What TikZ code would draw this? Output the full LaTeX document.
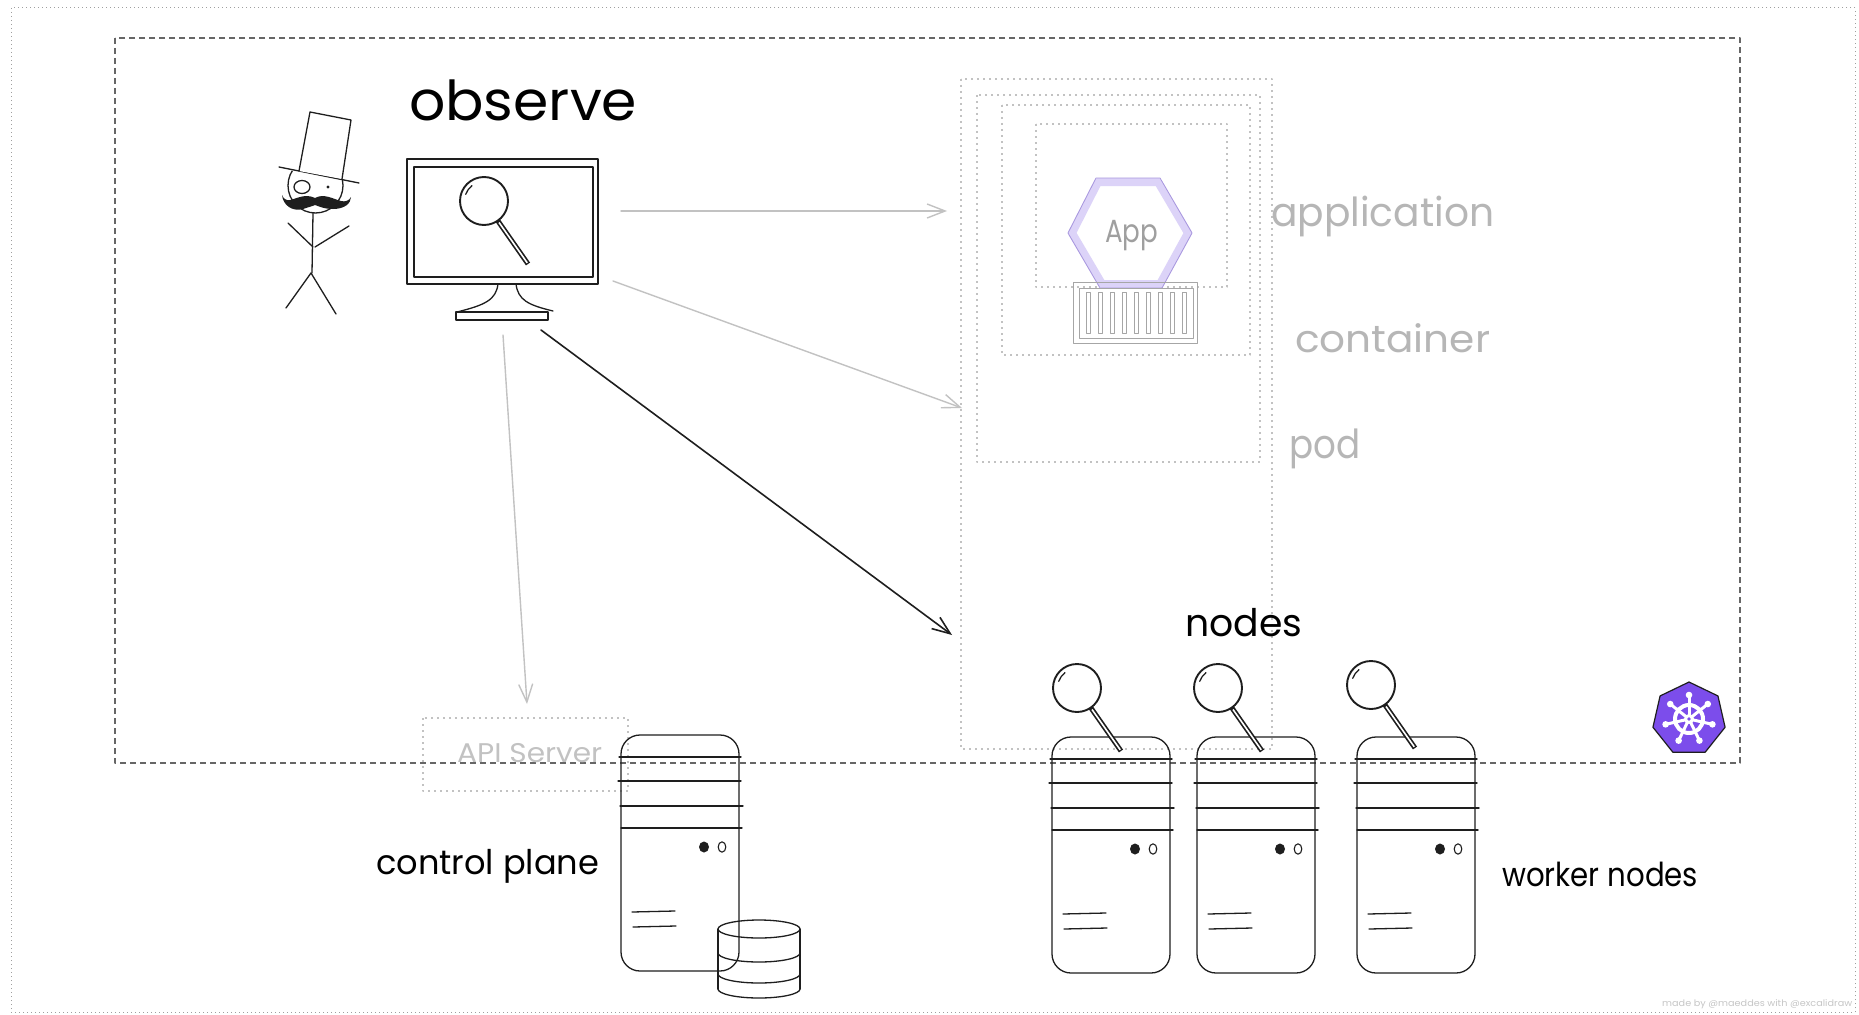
\documentclass[tikz,border=0pt]{standalone}
\usepackage{fontspec}
\usepackage{graphicx}
\usetikzlibrary{arrows.meta}
\newfontfamily\hand{Poppins}
\definecolor{ink}{HTML}{1E1E1E}
\definecolor{faint}{HTML}{C2C2C2}
\definecolor{labelgray}{HTML}{B6B6B6}
\definecolor{frame}{HTML}{666666}
\definecolor{lav}{HTML}{DCD3F8}
\definecolor{lavedge}{HTML}{A897DE}
\definecolor{kube}{HTML}{7C4DEB}
% hand-lettered label: target width (pt), font size (pt), text
\newcommand\handtext[3]{\resizebox{#1pt}{\height}{\hand\fontsize{#2}{#2}\selectfont #3}}

\begin{document}
\begin{tikzpicture}[x=1pt,y=-1pt, line join=round, line cap=round,
  inkline/.style={draw=ink, line width=1.9pt},
  thinink/.style={draw=ink, line width=1.3pt},
  dotbox/.style={draw=faint, line width=1.8pt, dash pattern=on 1.8pt off 4.2pt, line cap=butt},
  pageframe/.style={draw=gray!75, line width=1pt, dash pattern=on 1pt off 3pt, line cap=butt},
  zone/.style={draw=frame, line width=1.5pt, dash pattern=on 6pt off 4pt, line cap=butt},
  txt/.style={inner sep=0pt, anchor=base west},
  link/.style={-{Straight Barb[length=18pt,width=14pt]}, line width=1.4pt},
  lens/.pic={
    \draw[inkline] (0,0) circle (24);
    \draw[thinink] (200:19.5) arc[start angle=200,end angle=232,radius=19.5];
    \draw[ink, line width=5pt, line cap=butt] (14,20) -- (44,63);
    \draw[white, line width=1.6pt, line cap=butt] (15,21.5) -- (43.2,61.8);
  },
  server/.pic={
    \draw[thinink, rounded corners=19pt] (0,0) rectangle (118,236);
    \draw[thinink] (-2,22) -- (120,22) (-3,46) -- (120,46)
                   (-1,71) -- (122,71) (0,93) -- (121,93);
    \fill[ink] (83,112) ellipse (5 and 5.5);
    \draw[ink, line width=1.1pt] (101,112) ellipse (3.8 and 5.2);
    \draw[thinink] (11,177) -- (54,176) (12,192) -- (55,191);
  }
]
\fill[white] (0,0) rectangle (1859,1014);
\useasboundingbox (0,0) rectangle (1859,1014);

% frames
\draw[pageframe] (11,8) rectangle (1855,1012);
\draw[zone] (115,38) rectangle (1740,763);

% nested scopes: node > pod > container > application
\draw[dotbox] (961,79) rectangle (1272,749);
\draw[dotbox] (977,95) rectangle (1260,462);
\draw[dotbox] (1002,105) rectangle (1250,355);
\draw[dotbox] (1036,124) rectangle (1227,287);
\draw[dotbox] (423,718) rectangle (628,791);

% application hexagon
\draw[lav, line width=8pt] (1098,182) -- (1158,182) -- (1188,233) -- (1160,284) -- (1102,284) -- (1072,233) -- cycle;
\draw[lavedge, line width=0.8pt] (1096,178) -- (1160,178) -- (1192,233) -- (1162,288) -- (1100,288) -- (1068,233) -- cycle;
\node[txt, text=gray!75] (t-appicon) at (1105,242) {\handtext{53}{32}{App}};

% container icon
\draw[gray!70, line width=0.8pt] (1073,282) rectangle (1197,343);
\draw[gray!70, line width=0.8pt] (1079,288) rectangle (1193,338);
\foreach \i in {0,...,8}
  \draw[gray!70, line width=0.8pt] ({1086+12*\i},292) rectangle ({1090+12*\i},333);

% observer with top hat and monocle
\begin{scope}
  \clip (270,167) -- (370,184) -- (370,230) -- (270,230) -- cycle;
  \draw[thinink] (315.5,185.5) circle (27.5);
\end{scope}
\draw[thinink] (279,167) -- (359,183);
\draw[thinink, fill=white] (299,171) -- (310,112) -- (351,120) -- (342,179);
\draw[thinink] (302,187) ellipse (8 and 6.5);
\fill[ink] (328,187) circle (1.6);
\fill[ink] (315,198) .. controls (305,193) and (296,199) .. (290,200)
  .. controls (286,201) and (283,198) .. (282,195)
  .. controls (283,205) and (292,212) .. (303,209)
  .. controls (309,207) and (313,206) .. (315,205)
  .. controls (318,206) and (324,209) .. (333,209)
  .. controls (345,209) and (351,203) .. (351,197)
  .. controls (349,201) and (345,202) .. (341,201)
  .. controls (333,199) and (324,193) .. cycle;
\draw[thinink] (313,213) -- (312,273);
\draw[thinink] (288,223) -- (313,247) (349,226) -- (315,247);
\draw[thinink] (311,273) -- (286,308) (311,273) -- (336,314);

% monitor
\draw[inkline] (407,159) rectangle (598,284);
\draw[thinink] (414,167) rectangle (593,277);
\draw[thinink] (498,284) .. controls (496,300) and (485,305) .. (457,312);
\draw[thinink] (516,284) .. controls (518,300) and (528,305) .. (553,311);
\draw[inkline] (456,312) rectangle (548,320);
\pic (monlens) at (484,201) {lens};

% servers
\pic (cpserver) at (621,735) {server};
\pic (wserver1) at (1052,737) {server};
\pic (wserver2) at (1197,737) {server};
\pic (wserver3) at (1357,737) {server};
\pic (wlens1) at (1077,688) {lens};
\pic (wlens2) at (1218,688) {lens};
\pic (wlens3) at (1371,685) {lens};

% etcd store
\begin{scope}[shift={(759,929)}]
  \draw[thinink] (0,0) ellipse (41 and 9);
  \draw[thinink] (-41,0) -- (-41,60) (41,0) -- (41,60);
  \foreach \h in {24,45,60}
    \draw[thinink] (-41,\h) arc[start angle=180,end angle=0,x radius=41,y radius=9];
\end{scope}

% kubernetes logo
\begin{scope}[shift={(1689,719)}]
  \fill[kube, draw=ink, line width=1.2pt]
    (-90:37) \foreach \k in {1,...,6} { -- ({-90+\k*360/7}:37) } -- cycle;
  \draw[white, line width=4pt] (0,0) circle (14);
  \foreach \k in {0,...,6} {
    \draw[white, line width=3pt] (0,0) -- ({-90+\k*360/7}:24);
    \fill[white] ({-90+\k*360/7}:24) circle (3.3);
  }
  \fill[white] (0,0) circle (5);
  \fill[kube] (0,0) circle (1.8);
\end{scope}

% connectors
\coordinate (mon-e1) at (621,211);
\coordinate (mon-e2) at (613,281);
\coordinate (mon-s1) at (541,330);
\coordinate (mon-s2) at (503,335);
\coordinate (app-in) at (947,211);
\coordinate (pod-in) at (962,408);
\coordinate (node-in) at (952,635);
\coordinate (api-in) at (527,704);
\draw[link, draw=faint] (mon-e1) -- (app-in);
\draw[link, draw=faint] (mon-e2) -- (pod-in);
\draw[link, draw=ink, line width=1.6pt] (mon-s1) -- (node-in);
\draw[link, draw=faint] (mon-s2) -- (api-in);

% labels
\node[txt] (t-observe) at (409,121) {\handtext{228}{55}{observe}};
\node[txt, text=labelgray] (t-application) at (1271,226) {\handtext{223}{40}{application}};
\node[txt, text=labelgray] (t-container) at (1295,352) {\handtext{195}{38}{container}};
\node[txt, text=labelgray] (t-pod) at (1289,458) {\handtext{71}{40}{pod}};
\node[txt, text=faint] (t-api) at (457,762) {\handtext{145}{27}{API Server}};
\node[txt] (t-nodes) at (1185,636) {\handtext{117}{38}{nodes}};
\node[txt] (t-control) at (376,874) {\handtext{223}{34}{control plane}};
\node[txt] (t-workers) at (1502,886) {\handtext{196}{33}{worker nodes}};
\node[txt, text=gray!45] (t-credit) at (1662,1006) {\handtext{190}{9}{made by @maeddes with @excalidraw}};
\end{tikzpicture}
\end{document}
